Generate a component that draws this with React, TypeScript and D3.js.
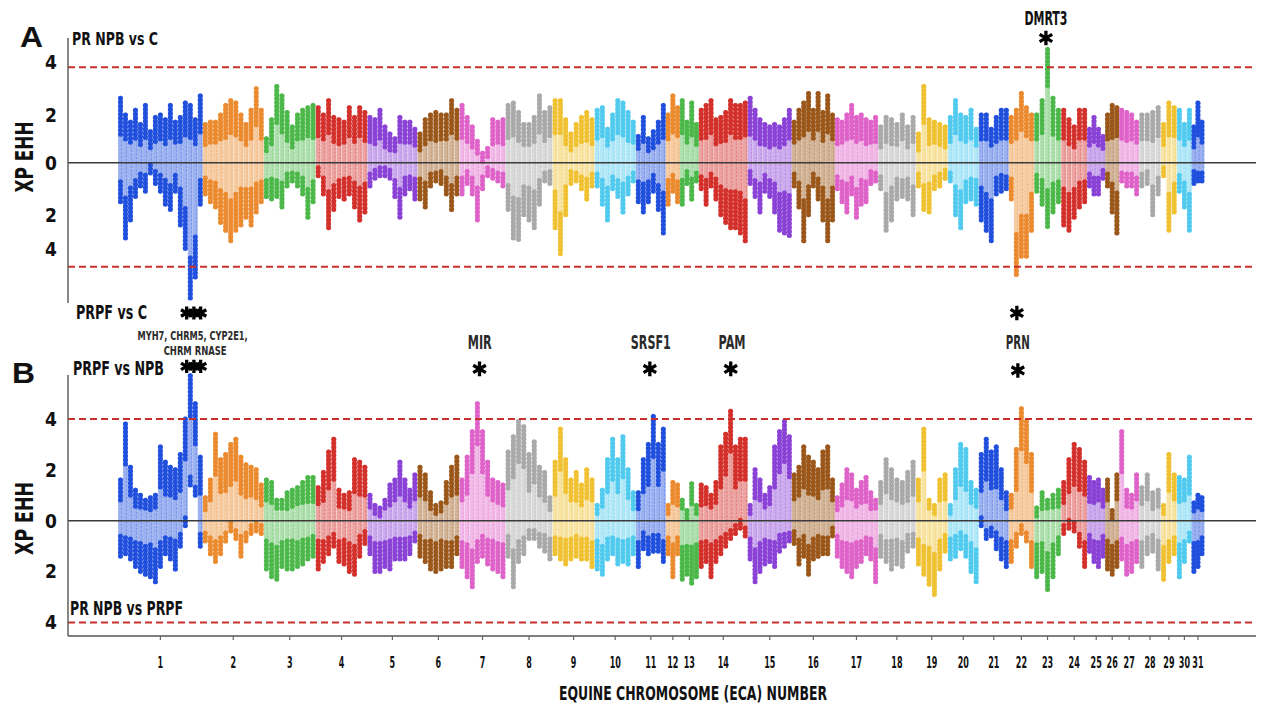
import React from "react";
import * as d3 from "d3";

// ---------- data ----------
const chromosomes = ["1","2","3","4","5","6","7","8","9","10","11","12","13","14","15","16","17","18","19","20","21","22","23","24","25","26","27","28","29","30","31"];
// approximate chromosome lengths (Mb)
const chromLengths = [175,126,107,107,103,87,95,97,87,85,62,29,39,101,91,89,89,78,66,64,62,52,56,54,37,29,41,45,33,31,25];

const palette = ["#1f4fdc","#eb8a2e","#4cb84a","#d3302b","#8a42d6","#9a5719","#df62c9","#a9a9a9","#f0c131","#50caee"];

// Panel A (PR NPB vs C / PRPF vs C): upper and lower envelope of XP-EHH per window
const hiA: number[][] = [
  [2.7,2.0,1.7,2.2,1.6,2.4,1.3,1.9,2.0,1.8,2.4,1.7,1.9,2.5,2.4,1.8,2.8],
  [1.6,1.7,1.7,2.0,2.4,2.6,2.5,2.0,1.6,2.2,3.1,2.2],
  [1.0,1.8,3.2,2.8,2.1,1.5,2.0,2.2,2.3,2.4],
  [2.3,2.0,2.6,1.9,1.8,1.7,2.3,1.9,2.3,2.1],
  [1.9,1.8,2.2,1.5,1.2,1.0,1.9,1.7,1.7,1.4],
  [1.2,1.8,2.0,2.1,2.0,2.0,2.6,2.2],
  [2.4,1.9,1.5,0.9,0.4,0.6,1.8,1.7,1.8],
  [2.4,2.5,2.1,1.6,1.6,1.9,2.8,2.1,2.3],
  [2.6,2.6,1.8,1.2,1.6,1.9,2.1,1.8],
  [2.2,2.3,1.4,2.0,2.6,2.5,2.1,1.7],
  [1.1,1.9,1.0,1.3,1.7,2.4],
  [2.0,2.8,2.3],
  [2.6,1.7,2.5,1.6],
  [2.2,2.4,2.6,1.8,1.9,2.1,2.6,2.4,2.4,2.5],
  [2.7,2.2,1.8,1.6,1.5,1.6,1.5,1.8,2.2],
  [1.7,2.2,2.5,2.9,2.2,2.9,2.1,2.8,2.0],
  [1.8,1.7,2.0,2.4,1.9,2.0,1.8,1.7,1.9],
  [1.5,1.9,1.8,1.6,2.0,1.5,1.9],
  [1.2,3.2,1.8,1.7,1.6,1.5],
  [1.9,2.6,2.0,1.9,2.2,1.4],
  [2.0,2.0,1.4,1.9,2.2,2.2],
  [1.9,2.2,2.9,2.3,2.0],
  [2.0,2.6,4.75,2.7,2.2],
  [2.2,1.8,1.5,2.2,2.2],
  [1.4,1.9,1.4,1.1],
  [2.0,2.4,2.3],
  [2.2,2.1,2.0,1.7],
  [2.0,2.0,2.1,2.3],
  [1.6,2.5,2.3],
  [2.2,1.6,2.2],
  [1.5,2.5,1.7],
];
const loA: number[][] = [
  [-1.5,-2.9,-2.2,-1.3,-0.9,-1.1,-0.4,-0.8,-1.1,-1.6,-1.8,-1.1,-2.4,-3.3,-5.2,-4.4,-1.6],
  [-1.2,-1.5,-1.7,-2.3,-2.6,-3.0,-2.6,-2.4,-2.1,-2.4,-1.9,-1.5],
  [-1.3,-1.4,-1.3,-1.7,-0.9,-0.7,-0.9,-1.2,-2.1,-1.5],
  [-0.5,-1.2,-2.5,-1.8,-1.3,-1.4,-1.2,-1.7,-2.2,-1.9],
  [-0.9,-0.6,-0.5,-0.5,-0.6,-1.3,-2.1,-1.2,-1.0,-1.4],
  [-1.4,-1.7,-0.9,-0.7,-0.8,-1.2,-1.8,-1.2],
  [-1.2,-0.8,-1.2,-2.2,-1.0,-0.5,-0.6,-0.7,-0.9],
  [-1.8,-2.9,-2.95,-2.0,-2.2,-2.5,-1.6,-0.7,-0.8],
  [-2.5,-3.5,-2.0,-0.8,-0.7,-1.0,-1.4,-0.9],
  [-0.9,-1.6,-2.2,-1.0,-1.3,-1.9,-1.2,-0.7],
  [-1.5,-1.9,-1.5,-1.1,-1.8,-2.7],
  [-1.6,-1.1,-1.5],
  [-1.6,-0.8,-1.4,-0.7],
  [-1.0,-1.6,-0.9,-1.4,-2.0,-2.3,-2.5,-2.5,-2.7,-3.0],
  [-0.8,-1.3,-1.9,-1.1,-1.3,-1.9,-2.6,-2.7,-2.8],
  [-0.9,-1.7,-3.0,-2.0,-0.9,-1.4,-2.2,-3.0,-2.2],
  [-1.0,-1.5,-1.9,-1.2,-2.1,-1.6,-1.5,-0.8,-0.7],
  [-1.0,-2.6,-2.2,-1.4,-1.3,-1.4,-2.0],
  [-0.9,-1.8,-1.9,-1.0,-0.9,-0.6],
  [-0.7,-2.0,-2.5,-1.5,-1.4,-1.6],
  [-2.2,-2.6,-3.0,-1.2,-1.1,-1.0],
  [-1.4,-4.3,-3.6,-3.6,-2.6],
  [-1.1,-1.6,-2.45,-1.9,-1.5],
  [-2.4,-2.6,-2.1,-1.7,-1.5],
  [-0.9,-1.2,-1.2,-0.6],
  [-0.9,-1.9,-2.7],
  [-0.7,-0.9,-0.9,-1.2],
  [-0.9,-0.8,-2.0,-1.2],
  [-0.5,-2.6,-1.9],
  [-1.1,-1.7,-2.6],
  [-0.8,-0.7,-0.7],
];

// Panel B (PRPF vs NPB / PR NPB vs PRPF)
const hiB: number[][] = [
  [1.6,3.8,2.1,1.2,1.0,0.8,0.9,1.0,2.9,2.3,2.1,2.0,2.6,4.0,5.7,4.6,2.5],
  [0.9,1.6,3.4,2.4,2.6,3.0,3.2,2.5,2.2,2.1,2.0,1.4],
  [1.6,1.5,0.8,0.8,1.1,1.2,1.3,1.5,1.7,1.7],
  [1.3,1.9,2.7,3.2,1.2,1.0,1.1,2.4,2.3,2.1],
  [1.0,0.6,0.5,0.8,1.4,1.6,2.3,1.6,1.2,1.8],
  [2.1,1.8,1.1,0.6,0.7,1.5,2.1,2.5],
  [1.6,2.5,3.5,4.6,3.5,2.3,1.6,1.5,1.4],
  [2.7,3.3,3.9,3.7,2.6,3.1,2.1,1.9,0.9],
  [2.3,3.6,2.4,1.6,1.9,1.4,2.0,1.6],
  [0.6,1.2,2.4,3.2,2.4,3.3,2.0,1.1],
  [1.1,2.4,3.0,4.1,3.0,3.6],
  [0.6,1.5,1.4],
  [0.8,0.4,1.45,0.6],
  [1.4,1.3,1.0,1.5,2.9,3.4,4.3,2.9,3.2,3.2],
  [0.6,2.0,1.6,1.0,1.3,2.9,3.5,3.9,3.3],
  [1.8,2.1,2.9,2.5,2.3,2.0,2.7,2.9,1.6],
  [0.9,1.4,2.0,1.8,1.2,1.5,1.7,1.1,0.8],
  [1.5,2.4,2.0,1.6,1.5,1.9,2.3],
  [1.6,3.6,0.8,0.6,1.6,1.8],
  [0.6,2.0,3.0,2.8,1.5,1.2],
  [2.6,3.2,2.7,2.9,2.0,1.1],
  [1.0,2.8,4.4,3.9,2.6],
  [0.5,1.1,0.8,1.0,1.2],
  [1.5,2.4,3.0,2.8,2.3],
  [1.7,1.5,1.6,1.2],
  [1.6,0.4,1.8],
  [3.5,1.2,1.0,1.8],
  [1.3,1.8,1.1,1.2],
  [0.6,2.6,1.8],
  [1.7,1.6,2.5],
  [0.7,1.0,0.9],
];
const loB: number[][] = [
  [-1.4,-1.3,-1.5,-1.8,-2.0,-2.1,-2.2,-2.4,-1.8,-1.3,-1.5,-1.9,-1.0,-0.2,1.4,1.0,-1.0],
  [-0.8,-1.3,-1.6,-1.3,-0.8,-0.4,-0.7,-1.4,-0.8,-0.5,-0.4,-0.5],
  [-1.9,-2.2,-2.3,-1.8,-1.9,-1.9,-1.8,-1.7,-1.5,-1.4],
  [-1.9,-1.6,-1.3,-1.0,-1.6,-1.7,-2.0,-2.1,-1.4,-0.9],
  [-1.3,-2.0,-2.0,-1.8,-1.9,-1.5,-1.5,-1.5,-1.3,-0.8],
  [-1.4,-1.6,-1.9,-2.0,-1.9,-1.8,-1.8,-1.3],
  [-1.8,-2.2,-2.6,-1.6,-1.4,-1.7,-1.9,-2.0,-2.2],
  [-1.4,-2.6,-1.6,-1.3,-0.7,-0.7,-1.0,-1.2,-1.5],
  [-1.3,-1.5,-1.7,-1.5,-1.4,-1.5,-1.5,-1.8],
  [-1.9,-2.1,-1.5,-1.3,-1.7,-1.6,-1.7,-1.3],
  [-1.8,-1.1,-1.3,-1.2,-1.2,-1.6],
  [-1.3,-2.2,-1.3],
  [-2.3,-2.1,-2.45,-2.2],
  [-1.8,-1.6,-2.2,-1.6,-1.3,-1.0,-0.7,-0.5,-0.3,-0.6],
  [-1.5,-2.4,-2.0,-1.7,-1.6,-1.8,-1.2,-1.0,-0.8],
  [-0.9,-1.7,-1.4,-2.1,-1.5,-1.4,-1.3,-1.3,-0.6],
  [-1.4,-1.8,-2.0,-2.2,-1.8,-1.6,-1.3,-1.5,-2.4],
  [-1.4,-1.6,-1.9,-1.7,-1.8,-1.2,-1.0],
  [-1.7,-2.1,-2.5,-2.9,-1.9,-1.2],
  [-1.5,-1.4,-1.1,-1.4,-2.0,-2.4],
  [-0.2,-0.7,-0.6,-1.1,-1.5,-1.8],
  [-1.6,-1.0,-0.5,-0.8,-1.8],
  [-2.2,-2.0,-2.7,-2.2,-1.3],
  [-0.5,-0.3,-0.4,-1.0,-1.8],
  [-1.2,-1.6,-1.8,-1.4],
  [-1.9,-2.1,-1.8],
  [-1.5,-2.1,-2.0,-1.6],
  [-1.8,-1.3,-1.2,-1.9],
  [-2.3,-1.6,-1.3],
  [-2.2,-1.6,-0.8],
  [-2.0,-1.8,-1.3],
];

const thresholds = [4, -4];
const yTickLabels = ["4", "2", "0", "2", "4"];
const yTickPosA = [4.23, 2, 0, -2, -3.33];
const yTickPosB = [4, 2, 0, -2, -4];

// annotations: chromosome index, fraction along chromosome, value
const starsA = [
  { chrom: 22, frac: 0.44, v: 5.23 },
  { chrom: 0, frac: 0.81, v: -5.78 },
  { chrom: 0, frac: 0.895, v: -5.78 },
  { chrom: 0, frac: 0.975, v: -5.78 },
  { chrom: 21, frac: 0.32, v: -5.78 },
];
const starsB = [
  { chrom: 0, frac: 0.81, v: 6.07 },
  { chrom: 0, frac: 0.895, v: 6.07 },
  { chrom: 0, frac: 0.975, v: 6.07 },
  { chrom: 6, frac: 0.435, v: 5.97 },
  { chrom: 10, frac: 0.467, v: 5.97 },
  { chrom: 13, frac: 0.653, v: 5.97 },
  { chrom: 21, frac: 0.36, v: 5.91 },
];
const geneLabelsB = [
  { text: "MIR", chrom: 6, frac: 0.44, v: 6.77, w: 24 },
  { text: "SRSF1", chrom: 10, frac: 0.5, v: 6.77, w: 40 },
  { text: "PAM", chrom: 13, frac: 0.68, v: 6.77, w: 27 },
  { text: "PRN", chrom: 21, frac: 0.36, v: 6.77, w: 24 },
  { text: "MYH7, CHRM5, CYP2E1,", chrom: 0, frac: 0.88, v: 7.1, w: 110, small: true },
  { text: "CHRM RNASE", chrom: 0, frac: 0.91, v: 6.5, w: 63, small: true },
];

const COND = "'Liberation Sans Narrow','DejaVu Sans Condensed','Roboto Condensed','Liberation Sans',Arial,sans-serif";

export default function App() {
  const total = d3.sum(chromLengths);
  const starts = chromLengths.map((_, i) => d3.sum(chromLengths.slice(0, i)));
  const x = d3.scaleLinear().domain([0, total]).range([118, 1204]);
  const yA = d3.scaleLinear().domain([4, 0, -4]).range([67.3, 162.7, 266.7]);
  const yB = d3.scaleLinear().domain([4, 0, -4]).range([419, 520.7, 622.5]);
  const xLeft = 68;
  const xRight = 1256;
  const pos = (c: number, f: number) => x(starts[c] + f * chromLengths[c]);

  const renderPanel = (hi: number[][], lo: number[][], y: any, key: string) => {
    const pale: React.ReactNode[] = [];
    const streak: React.ReactNode[] = [];
    const tips: React.ReactNode[] = [];
    hi.forEach((arr, c) => {
      const n = arr.length;
      const col = palette[c % palette.length];
      const light = d3.interpolateRgb(col, "#ffffff")(0.56);
      const mid = d3.interpolateRgb(col, "#ffffff")(0.25);
      arr.forEach((h, i) => {
        const l = lo[c][i];
        const cx = x(starts[c] + ((i + 0.5) * chromLengths[c]) / n);
        pale.push(
          <line key={`${key}p${c}-${i}`} x1={cx} x2={cx} y1={y(h)} y2={y(l)} stroke={light}
            strokeWidth={5.2} strokeLinecap="round" strokeDasharray="0 3.2" />
        );
        const topEnd = Math.min(h - 0.4, Math.max(h * 0.42, h - 1.6));
        const botEnd = Math.max(l + 0.4, Math.min(l * 0.42, l + 1.6));
        streak.push(
          <line key={`${key}s${c}-${i}`} x1={cx + 1.2} x2={cx + 1.2} y1={y(topEnd)} y2={y(botEnd)} stroke={mid}
            strokeWidth={1.1} strokeOpacity={0.5} strokeDasharray="2.5 1.5" />
        );
        tips.push(
          <line key={`${key}t${c}-${i}`} x1={cx} x2={cx} y1={y(h)} y2={y(topEnd)} stroke={col}
            strokeWidth={5} strokeLinecap="round" strokeDasharray="0 4" />,
          <line key={`${key}b${c}-${i}`} x1={cx} x2={cx} y1={y(l)} y2={y(botEnd)} stroke={col}
            strokeWidth={5} strokeLinecap="round" strokeDasharray="0 4" />
        );
      });
    });
    return (
      <g key={key}>
        <g>{pale}</g>
        <g>{streak}</g>
        <g>{tips}</g>
      </g>
    );
  };

  const star = d3.symbol().type(d3.symbolAsterisk).size(150)();
  const starSmall = d3.symbol().type(d3.symbolAsterisk).size(120)();

  const yAxisLabels = (y: any, posArr: number[], k: string) =>
    posArr.map((v, i) => (
      <text key={k + i} x={57} y={y(v)} dy="0.36em" textAnchor="end" fontFamily={COND}
        fontWeight="bold" fontSize={19} fill="#111" style={{ fontStretch: "condensed" }}>
        {yTickLabels[i]}
      </text>
    ));

  const label = (t: string, x0: number, yb: number, w: number, size: number, fill = "#111") => (
    <text x={x0} y={yb} fontFamily={COND} fontWeight="bold" fontSize={size} fill={fill}
      textLength={w} lengthAdjust="spacingAndGlyphs" style={{ fontStretch: "condensed" }}>
      {t}
    </text>
  );

  return (
    <svg width={1262} height={709} style={{ position: "absolute", left: 0, top: 0, background: "#fff" }}>
      <rect width={1262} height={709} fill="#fff" />

      {/* data */}
      {renderPanel(hiA, loA, yA, "A")}
      {renderPanel(hiB, loB, yB, "B")}

      {/* zero lines */}
      <line x1={xLeft} x2={xRight} y1={yA(0)} y2={yA(0)} stroke="#3a3a3a" strokeWidth={1.5} />
      <line x1={xLeft} x2={xRight} y1={yB(0)} y2={yB(0)} stroke="#3a3a3a" strokeWidth={1.5} />

      {/* threshold lines */}
      {thresholds.map((t) => (
        <line key={"ta" + t} x1={xLeft} x2={xRight} y1={yA(t)} y2={yA(t)} stroke="#c9302c"
          strokeWidth={2} strokeDasharray="7 4" />
      ))}
      {thresholds.map((t) => (
        <line key={"tb" + t} x1={xLeft} x2={xRight} y1={yB(t)} y2={yB(t)} stroke="#c9302c"
          strokeWidth={2} strokeDasharray="7 4" />
      ))}

      {/* axes */}
      <line x1={xLeft} x2={xLeft} y1={38} y2={303} stroke="#555" strokeWidth={1.4} />
      <line x1={xLeft} x2={xLeft} y1={375} y2={636} stroke="#555" strokeWidth={1.4} />
      <line x1={xLeft} x2={xRight} y1={636} y2={636} stroke="#555" strokeWidth={1.4} />
      {chromosomes.map((c, i) => {
        const mx = x(starts[i] + chromLengths[i] / 2);
        return (
          <g key={"xt" + c}>
            <line x1={mx} x2={mx} y1={636} y2={640} stroke="#666" strokeWidth={1.2} />
            <text x={mx} y={668} textAnchor="middle" fontFamily={COND} fontWeight="bold" fontSize={16.5}
              fill="#111" textLength={c.length * 5.6} lengthAdjust="spacingAndGlyphs"
              style={{ fontStretch: "condensed" }}>
              {c}
            </text>
          </g>
        );
      })}
      {label("EQUINE CHROMOSOME (ECA) NUMBER", 559, 700, 268, 20)}

      {yAxisLabels(yA, yTickPosA, "ya")}
      {yAxisLabels(yB, yTickPosB, "yb")}

      <text transform="translate(33,157) rotate(-90)" textAnchor="middle" fontFamily={COND} fontWeight="bold"
        fontSize={25} fill="#111" textLength={71} lengthAdjust="spacingAndGlyphs">XP EHH</text>
      <text transform="translate(33,518.5) rotate(-90)" textAnchor="middle" fontFamily={COND} fontWeight="bold"
        fontSize={25} fill="#111" textLength={73} lengthAdjust="spacingAndGlyphs">XP EHH</text>

      {/* panel letters & comparison titles */}
      <text x={20} y={47} fontFamily="'Liberation Sans',Arial,sans-serif" fontWeight="bold" fontSize={30}
        fill="#111" textLength={23} lengthAdjust="spacingAndGlyphs">A</text>
      <text x={12} y={383} fontFamily="'Liberation Sans',Arial,sans-serif" fontWeight="bold" fontSize={30}
        fill="#111" textLength={23} lengthAdjust="spacingAndGlyphs">B</text>
      {label("PR NPB vs C", 72, 45, 86, 18)}
      {label("PRPF vs C", 76, 319, 71, 20)}
      {label("PRPF vs NPB", 73, 375, 91, 20)}
      {label("PR NPB vs PRPF", 70, 615, 113, 20)}

      {/* gene annotations */}
      <text x={pos(22, 0.44)} y={yA(5.77)} textAnchor="middle" fontFamily={COND} fontWeight="bold"
        fontSize={20} fill="#111" textLength={43} lengthAdjust="spacingAndGlyphs">DMRT3</text>
      {geneLabelsB.map((g) => (
        <text key={g.text} x={pos(g.chrom, g.frac)} y={yB(g.v)} textAnchor="middle" fontFamily={COND}
          fontWeight="bold" fontSize={g.small ? 13 : 19} fill="#2b2b2b" textLength={g.w}
          lengthAdjust="spacingAndGlyphs">
          {g.text}
        </text>
      ))}
      {starsA.map((s, i) => (
        <path key={"sa" + i} d={s.chrom === 0 ? starSmall! : star!}
          transform={`translate(${pos(s.chrom, s.frac)},${yA(s.v)})`} fill="none" stroke="#000"
          strokeWidth={3.3} />
      ))}
      {starsB.map((s, i) => (
        <path key={"sb" + i} d={s.chrom === 0 ? starSmall! : star!}
          transform={`translate(${pos(s.chrom, s.frac)},${yB(s.v)})`} fill="none" stroke="#000"
          strokeWidth={3.3} />
      ))}
    </svg>
  );
}
